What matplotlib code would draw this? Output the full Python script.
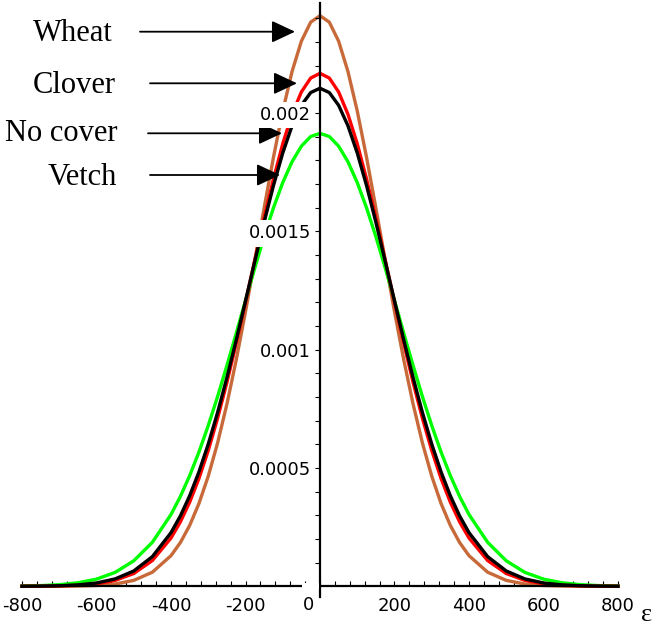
import numpy as np
import matplotlib.pyplot as plt
from matplotlib.ticker import FixedLocator
from matplotlib.patches import Rectangle

plt.rcParams['font.family'] = ['DejaVu Sans']
plt.rcParams['axes.unicode_minus'] = False

# epsilon grid and density values (in units of 1e-3)
eps = [-800, -750, -700, -650, -600, -550, -500, -450,
       -400, -375, -350, -325, -300, -275, -250, -225, -200, -175, -150, -125, -100, -75, -50, -25,
       0,
       25, 50, 75, 100, 125, 150, 175, 200, 225, 250, 275, 300, 325, 350, 375, 400,
       450, 500, 550, 600, 650, 700, 750, 800]

wheat = [0.0000, 0.0001, 0.0003, 0.0011, 0.0033, 0.0096, 0.0250, 0.0596,
         0.1295, 0.1845, 0.2570, 0.3499, 0.4655, 0.6054, 0.7695, 0.9561, 1.1610, 1.3780, 1.5986, 1.8126, 2.0089, 2.1761, 2.3040, 2.3843,
         2.4117,
         2.3843, 2.3040, 2.1761, 2.0089, 1.8126, 1.5986, 1.3780, 1.1610, 0.9561, 0.7695, 0.6054, 0.4655, 0.3499, 0.2570, 0.1845, 0.1295,
         0.0596, 0.0250, 0.0096, 0.0033, 0.0011, 0.0003, 0.0001, 0.0000]

clover = [0.0002, 0.0005, 0.0016, 0.0042, 0.0106, 0.0249, 0.0540, 0.1090,
          0.2041, 0.2717, 0.3551, 0.4556, 0.5739, 0.7096, 0.8614, 1.0265, 1.2009, 1.3792, 1.5551, 1.7213, 1.8704, 1.9952, 2.0894, 2.1481,
          2.1680,
          2.1481, 2.0894, 1.9952, 1.8704, 1.7213, 1.5551, 1.3792, 1.2009, 1.0265, 0.8614, 0.7096, 0.5739, 0.4556, 0.3551, 0.2717, 0.2041,
          0.1090, 0.0540, 0.0249, 0.0106, 0.0042, 0.0016, 0.0005, 0.0002]

no_cover = [0.0003, 0.0008, 0.0023, 0.0059, 0.0140, 0.0312, 0.0648, 0.1255,
            0.2268, 0.2971, 0.3824, 0.4836, 0.6012, 0.7344, 0.8817, 1.0402, 1.2061, 1.3742, 1.5388, 1.6934, 1.8314, 1.9464, 2.0330, 2.0868,
            2.1050,
            2.0868, 2.0330, 1.9464, 1.8314, 1.6934, 1.5388, 1.3742, 1.2061, 1.0402, 0.8817, 0.7344, 0.6012, 0.4836, 0.3824, 0.2971, 0.2268,
            0.1255, 0.0648, 0.0312, 0.0140, 0.0059, 0.0023, 0.0008, 0.0003]

vetch = [0.0012, 0.0029, 0.0068, 0.0148, 0.0303, 0.0588, 0.1077, 0.1860,
         0.3034, 0.3793, 0.4673, 0.5675, 0.6793, 0.8016, 0.9324, 1.0689, 1.2080, 1.3457, 1.4777, 1.5994, 1.7064, 1.7945, 1.8603, 1.9009,
         1.9146,
         1.9009, 1.8603, 1.7945, 1.7064, 1.5994, 1.4777, 1.3457, 1.2080, 1.0689, 0.9324, 0.8016, 0.6793, 0.5675, 0.4673, 0.3793, 0.3034,
         0.1860, 0.1077, 0.0588, 0.0303, 0.0148, 0.0068, 0.0029, 0.0012]

x_major = [-800, -600, -400, -200, 200, 400, 600, 800]
y_major = [0.0005, 0.001, 0.0015, 0.002]
y_labels = ["0.0005", "0.001", "0.0015", "0.002"]

W, H = 659, 629
fig = plt.figure(figsize=(W / 100, H / 100), dpi=100)
ax = fig.add_axes([0, 0, 1, 1])
ax.set_xlim(-859.1, 910.1)
ax.set_ylim(-0.0001805, 0.002478)

unit = 1e-3
lw = 2.4
ax.plot(eps, np.array(wheat) * unit, color="#C8693A", lw=lw, zorder=2)
ax.plot(eps, np.array(vetch) * unit, color="#00FF00", lw=lw, zorder=2)
ax.plot(eps, np.array(clover) * unit, color="#FF0000", lw=lw, zorder=2)
ax.plot(eps, np.array(no_cover) * unit, color="black", lw=lw, zorder=2)

# maple style axes crossing at the origin
for s in ["top", "right"]:
    ax.spines[s].set_visible(False)
ax.spines["left"].set_position(("data", 0))
ax.spines["bottom"].set_position(("data", 0))
ax.spines["left"].set_bounds(-0.000045, 0.002465)
ax.spines["bottom"].set_bounds(-800, 800)
for s in ["left", "bottom"]:
    ax.spines[s].set_linewidth(1.6)
    ax.spines[s].set_zorder(4)

ax.set_xticks(x_major, [str(v) for v in x_major])
ax.xaxis.set_minor_locator(FixedLocator(np.arange(-800, 801, 40)))
ax.set_yticks(y_major, y_labels)
ax.yaxis.set_minor_locator(FixedLocator(np.arange(1, 25) * 1e-4))
ax.tick_params(axis="x", which="both", direction="in", length=3.3, width=0.8, pad=8, labelsize=13)
ax.tick_params(axis="y", which="both", direction="out", length=3.6, width=0.8, pad=3, labelsize=13)
ax.yaxis.set_zorder(3)
for t in ax.get_yticklabels():
    t.set_bbox(dict(facecolor="white", edgecolor="none", pad=3))

# the "0" label breaks the x axis just left of the origin
ax.add_patch(Rectangle((-48.3, -0.000012), 44.8, 0.000024, facecolor="white", edgecolor="none", zorder=4.5))
ax.text(-31, -0.000040, "0", ha="center", va="top", fontsize=13, zorder=5)

# arrow labels (positions in image pixels)
def fpx(x, y):
    return (x / W, 1 - y / H)

labels = [("Wheat", 33, 40.7, 140, 295, 31.7),
          ("Clover", 33, 92.7, 150, 297, 83.3),
          ("No cover", 5, 141, 148, 282, 133.3),
          ("Vetch", 48, 185, 150, 280, 175)]
for name, tx, ty, x0, x1, ay in labels:
    fig.text(*fpx(tx, ty), name, fontsize=22, family="Liberation Serif", va="baseline", ha="left")
    ax.annotate("", xy=fpx(x1, ay), xytext=fpx(x0, ay), xycoords="figure fraction",
                textcoords="figure fraction",
                arrowprops=dict(arrowstyle="-|>,head_length=1.0,head_width=0.47", mutation_scale=14.4,
                                color="black", lw=1.3, shrinkA=0, shrinkB=0))

fig.text(*fpx(641, 621), "ε", fontsize=19, family="Liberation Serif", va="baseline", ha="left")

fig.savefig("out.png", dpi=100)
